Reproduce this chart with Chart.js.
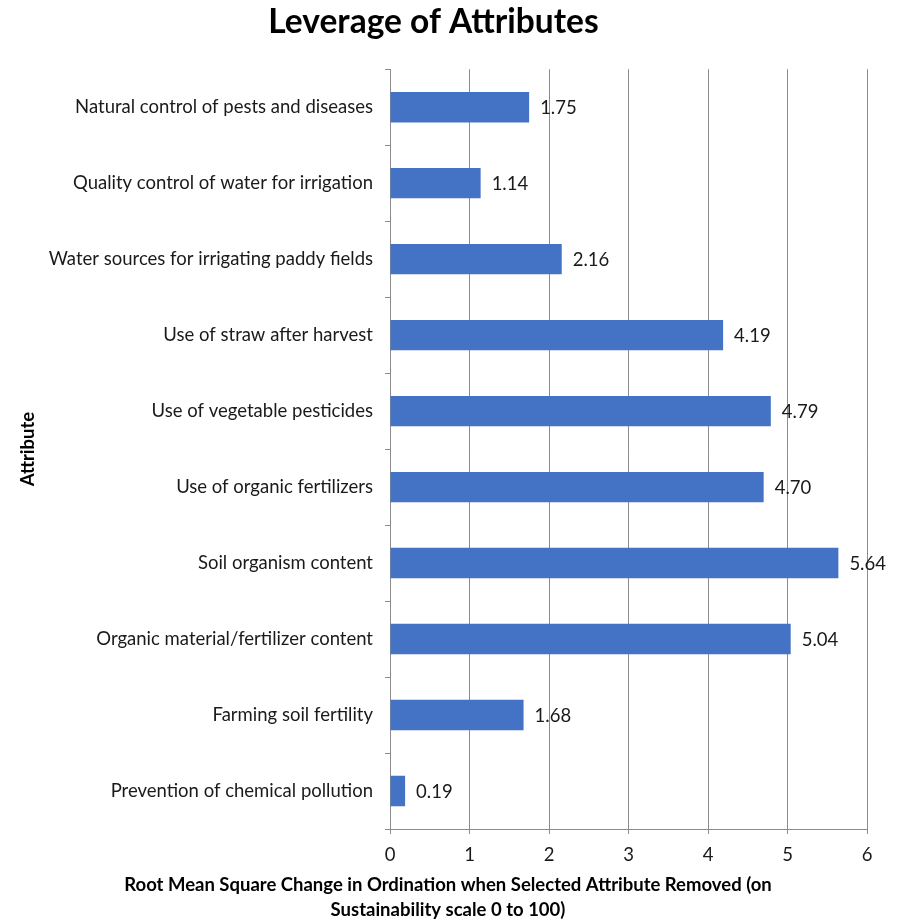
<!DOCTYPE html>
<html>
<head>
<meta charset="utf-8">
<script src="https://cdn.jsdelivr.net/npm/chart.js@4"></script>
<style>
  html, body { margin: 0; padding: 0; background: #fff; }
  #wrap { width: 909px; height: 922px; }
</style>
</head>
<body>
<div id="wrap"><canvas id="leverageChart" width="909" height="922"></canvas></div>
<script>
const attributes = [
    'Natural control of pests and diseases',
    'Quality control of water for irrigation',
    'Water sources for irrigating paddy fields',
    'Use of straw after harvest',
    'Use of vegetable pesticides',
    'Use of organic fertilizers',
    'Soil organism content',
    'Organic material/fertilizer content',
    'Farming soil fertility',
    'Prevention of chemical pollution'
];
const rmsChange = [1.75, 1.14, 2.16, 4.19, 4.79, 4.70, 5.64, 5.04, 1.68, 0.19];
const xTitleLines = [
    'Root Mean Square Change in Ordination when Selected Attribute Removed (on',
    'Sustainability scale 0 to 100)'
];

const FONT = 'Lato, "Liberation Sans", sans-serif';
const TEXT_SIZE = 18.5;

// value labels at the end of each bar
const valueLabels = {
    id: 'valueLabels',
    afterDatasetsDraw(chart) {
        const ctx = chart.ctx;
        const meta = chart.getDatasetMeta(0);
        ctx.save();
        ctx.font = TEXT_SIZE + 'px ' + FONT;
        ctx.fillStyle = '#1a1a1a';
        ctx.textAlign = 'left';
        ctx.textBaseline = 'middle';
        meta.data.forEach((bar, i) => {
            ctx.fillText(rmsChange[i].toFixed(2), bar.x + 11, bar.y + 1);
        });
        ctx.restore();
    }
};

// two-line x axis title, centred on the page
const xAxisTitle = {
    id: 'xAxisTitle',
    afterDraw(chart) {
        const ctx = chart.ctx;
        ctx.save();
        ctx.font = 'bold ' + TEXT_SIZE + 'px ' + FONT;
        ctx.fillStyle = '#000';
        ctx.textAlign = 'center';
        ctx.textBaseline = 'middle';
        ctx.fillText(xTitleLines[0], 448, 885);
        ctx.fillText(xTitleLines[1], 448, 910);
        ctx.restore();
    }
};

const ctx = document.getElementById('leverageChart').getContext('2d');
const leverageChart = new Chart(ctx, {
    type: 'bar',
    data: {
        labels: attributes,
        datasets: [{
            label: 'Leverage',
            data: rmsChange,
            backgroundColor: '#4472C4',
            borderWidth: 0,
            barPercentage: 0.4,
            categoryPercentage: 1.0
        }]
    },
    plugins: [valueLabels, xAxisTitle],
    options: {
        indexAxis: 'y',
        responsive: false,
        animation: false,
        layout: { padding: { left: 0, right: 42, top: 0, bottom: 0 } },
        plugins: {
            legend: { display: false },
            tooltip: { enabled: false },
            title: {
                display: true,
                text: 'Leverage of Attributes',
                color: '#000',
                font: { family: FONT, size: 33.5, weight: 'bold', lineHeight: 1.2 },
                padding: { top: 2, bottom: 27 }
            }
        },
        scales: {
            x: {
                min: 0,
                max: 6,
                ticks: {
                    stepSize: 1,
                    color: '#1a1a1a',
                    font: { family: FONT, size: TEXT_SIZE },
                    padding: 10
                },
                grid: {
                    color: '#8c8c8c',
                    lineWidth: 1,
                    tickLength: 5,
                    tickColor: '#8c8c8c'
                },
                border: { color: '#8c8c8c' },
                afterFit(scale) { scale.height = 93; }
            },
            y: {
                ticks: {
                    color: '#1a1a1a',
                    font: { family: FONT, size: TEXT_SIZE },
                    padding: 12
                },
                grid: {
                    offset: true,
                    drawOnChartArea: false,
                    tickLength: 5,
                    tickColor: '#8c8c8c'
                },
                border: { color: '#8c8c8c' },
                title: {
                    display: true,
                    text: 'Attribute',
                    color: '#000',
                    font: { family: FONT, size: TEXT_SIZE, weight: 'bold', lineHeight: 1.2 },
                    padding: { top: 17, bottom: 0 }
                },
                afterFit(scale) { scale.width = 390; }
            }
        }
    }
});
</script>
</body>
</html>
